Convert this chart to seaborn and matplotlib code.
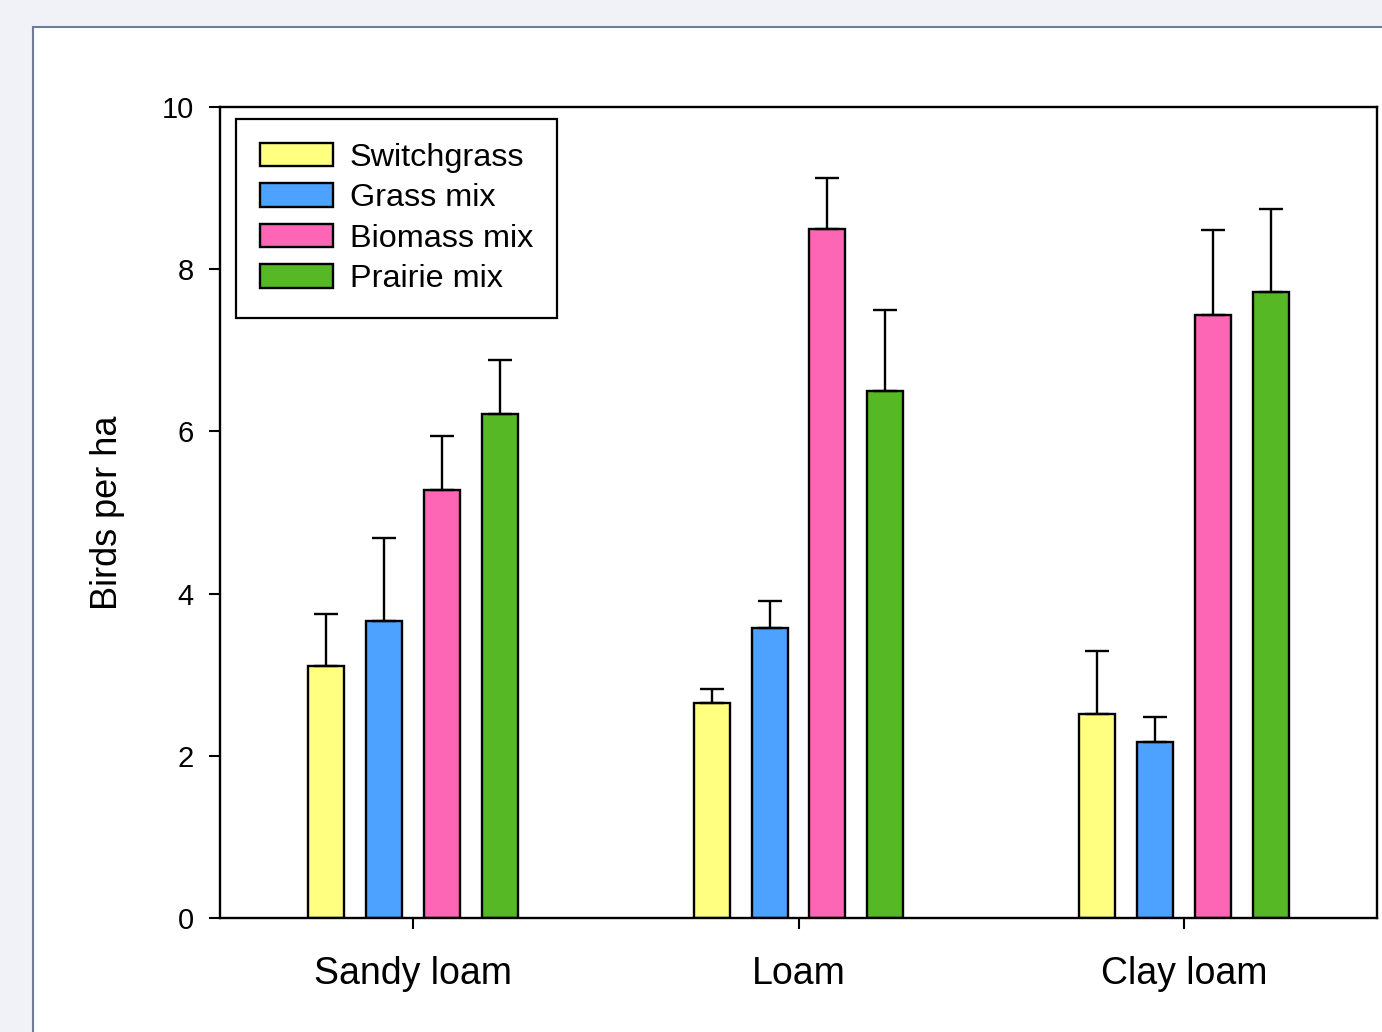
import pandas as pd
import seaborn as sns
import matplotlib.pyplot as plt
from matplotlib.patches import Rectangle

# ---- data ----
soils = ['Sandy loam', 'Loam', 'Clay loam']
mixes = ['Switchgrass', 'Grass mix', 'Biomass mix', 'Prairie mix']

switchgrass = [3.11, 2.65, 2.52]
grass_mix = [3.66, 3.58, 2.17]
biomass_mix = [5.28, 8.50, 7.44]
prairie_mix = [6.21, 6.50, 7.72]

# tops of the error bars (mean + SE)
switchgrass_top = [3.75, 2.82, 3.29]
grass_mix_top = [4.69, 3.91, 2.48]
biomass_mix_top = [5.94, 9.12, 8.48]
prairie_mix_top = [6.88, 7.50, 8.74]

colors = ['#FFFF80', '#4DA1FF', '#FC66B4', '#55B824']

means = [switchgrass, grass_mix, biomass_mix, prairie_mix]
tops = [switchgrass_top, grass_mix_top, biomass_mix_top, prairie_mix_top]

rows = []
for mix, vals, ups in zip(mixes, means, tops):
    for soil, v, u in zip(soils, vals, ups):
        rows.append({'soil': soil, 'mix': mix, 'birds': v, 'top': u})
df = pd.DataFrame(rows)

sns.set_style('ticks')
plt.rcParams['font.family'] = ['Liberation Sans', 'DejaVu Sans']
plt.rcParams['text.color'] = 'black'
plt.rcParams['axes.labelcolor'] = 'black'

fig = plt.figure(figsize=(13.82, 10.32), dpi=100)
fig.patch.set_facecolor('#F0F2F7')
# white panel with thin border (behind the axes)
fig.patches.append(Rectangle((33 / 1382, -0.02), 1.0, 1 - 27 / 1032 + 0.02,
                             transform=fig.transFigure, facecolor='white',
                             edgecolor='#6E7C99', linewidth=1.5, zorder=-10))

ax = fig.add_axes([220 / 1382, 1 - 918 / 1032, 1157 / 1382, 811 / 1032])
ax.set_facecolor('white')

sns.barplot(data=df, x='soil', y='birds', hue='mix', order=soils, hue_order=mixes,
            palette=colors, width=0.6, gap=0.38, errorbar=None,
            edgecolor='black', linewidth=1.7, saturation=1, ax=ax)

# upper-only error bars at the bar centres
for cont, mix in zip(ax.containers, mixes):
    sub = df[df['mix'] == mix].set_index('soil').loc[soils]
    xs = [p.get_x() + p.get_width() / 2 for p in cont.patches]
    hs = sub['birds'].values
    ups = sub['top'].values - hs
    ax.errorbar(xs, hs, yerr=[[0] * len(hs), ups], fmt='none', ecolor='black',
                elinewidth=1.7, capsize=8.5, capthick=1.7, zorder=1)

ax.set_xlim(-0.5, 2.5)
ax.set_ylim(0, 10)
ax.set_yticks([0, 2, 4, 6, 8, 10])

for s in ax.spines.values():
    s.set_visible(True)
    s.set_color('black')
    s.set_linewidth(1.7)

ax.tick_params(axis='y', direction='out', length=8, width=1.5, labelsize=21, pad=11, colors='black')
ax.tick_params(axis='x', direction='out', length=8, width=1.5, labelsize=27, pad=19.5, colors='black')

ax.set_xlabel('')
ax.set_ylabel('Birds per ha', fontsize=26, color='black')
ax.yaxis.set_label_coords(-0.082, 0.5)

handles, labels = ax.get_legend_handles_labels()
leg = ax.legend(handles, labels, loc='upper left',
                bbox_to_anchor=((236 - 220) / 1157, 1 - (119 - 107) / 811),
                borderaxespad=0, fontsize=23.3, frameon=True, fancybox=False,
                edgecolor='black', framealpha=1, borderpad=0.74,
                handlelength=2.25, handleheight=0.74, handletextpad=0.52,
                labelspacing=0.32)
leg.get_frame().set_linewidth(1.6)

fig.savefig('out.png', dpi=100, facecolor=fig.get_facecolor())
